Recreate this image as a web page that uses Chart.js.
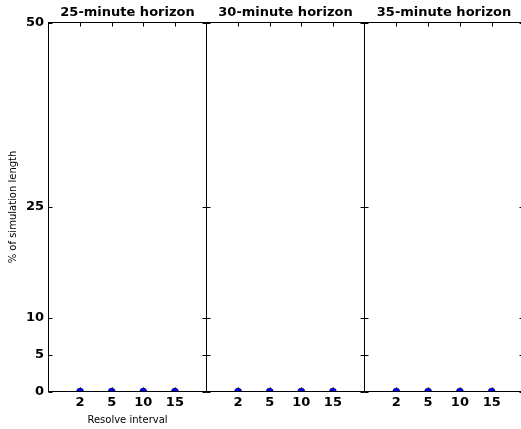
<!DOCTYPE html>
<html>
<head>
<meta charset="utf-8">
<script src="https://cdn.jsdelivr.net/npm/chart.js@4.4.1/dist/chart.umd.min.js"></script>
<style>
  html, body { margin: 0; padding: 0; background: #ffffff; }
  #wrap { position: relative; width: 521px; height: 429px; overflow: hidden; background: #ffffff; }
  #wrap canvas { position: absolute; left: 0; top: 0; }
</style>
</head>
<body>
<div id="wrap">
  <canvas id="c1" width="521" height="429"></canvas>
  <canvas id="c2" width="521" height="429"></canvas>
  <canvas id="c3" width="530" height="429"></canvas>
</div>
<script>
// ---- data ----
const horizons = ['25-minute horizon', '30-minute horizon', '35-minute horizon'];
const intervals = ['2', '5', '10', '15'];
const values25 = [0, 0, 0, 0];
const values30 = [0, 0, 0, 0];
const values35 = [0, 0, 0, 0];
const yTicks = [0, 5, 10, 25, 50];
const yTitle = '% of simulation length';
const xTitle = 'Resolve interval';

Chart.defaults.font.family = "'DejaVu Sans', sans-serif";
Chart.defaults.color = '#000000';

const TICK = 4;
const framePlugin = {
  id: 'frame',
  beforeDatasetsDraw(chart) {
    const ctx = chart.ctx, a = chart.chartArea;
    const xs = chart.scales.x, ys = chart.scales.y;
    ctx.save();
    ctx.strokeStyle = '#000000';
    ctx.lineWidth = 1;
    ctx.beginPath();
    intervals.forEach((_, i) => {
      const px = Math.round(xs.getPixelForValue(i + 1)) + 0.5;
      ctx.moveTo(px, a.top); ctx.lineTo(px, a.top + TICK);
      ctx.moveTo(px, a.bottom); ctx.lineTo(px, a.bottom - TICK);
    });
    yTicks.forEach(v => {
      const py = Math.round(ys.getPixelForValue(v)) + 0.5;
      ctx.moveTo(a.left, py); ctx.lineTo(a.left + TICK, py);
      ctx.moveTo(a.right, py); ctx.lineTo(a.right - TICK, py);
    });
    ctx.stroke();
    ctx.restore();
  },
  afterDraw(chart) {
    const ctx = chart.ctx, a = chart.chartArea;
    ctx.save();
    ctx.strokeStyle = '#000000';
    ctx.lineWidth = 1;
    ctx.strokeRect(a.left, a.top, a.right - a.left, a.bottom - a.top);
    ctx.restore();
  }
};

function makeChart(id, title, values, opts) {
  const data = values.map((v, i) => ({ x: i + 1, y: v }));
  return new Chart(document.getElementById(id), {
    type: 'scatter',
    data: {
      datasets: [{
        data: data,
        showLine: false,
        pointRadius: 3.5,
        pointHoverRadius: 3.5,
        pointBackgroundColor: '#0000ff',
        pointBorderColor: '#000000',
        pointBorderWidth: 0.5,
        clip: { left: 0, top: 0, right: 0, bottom: 0 }
      }]
    },
    options: {
      responsive: false,
      animation: false,
      events: [],
      layout: { padding: { left: opts.padLeft, right: opts.padRight, top: 0, bottom: 0 } },
      plugins: {
        legend: { display: false },
        tooltip: { enabled: false },
        title: {
          display: true,
          text: title,
          fullSize: false,
          color: '#000000',
          font: { size: 13, weight: 'bold', lineHeight: 1.2 },
          padding: { top: 5, bottom: 1.9 }
        }
      },
      scales: {
        x: {
          type: 'linear',
          position: 'bottom',
          min: 0,
          max: 5,
          grid: { display: false, drawTicks: false, tickLength: 0 },
          border: { display: false },
          afterBuildTicks: s => { s.ticks = intervals.map((_, i) => ({ value: i + 1 })); },
          afterFit: s => { s.height = 37.5; },
          ticks: {
            autoSkip: false,
            maxRotation: 0,
            padding: 3.7,
            color: '#000000',
            font: { size: 13, weight: 'bold' },
            callback: v => intervals[v - 1]
          },
          title: {
            display: opts.showXTitle,
            text: xTitle,
            color: '#000000',
            font: { size: 10 },
            padding: { top: 0, bottom: 2.6 }
          }
        },
        y: {
          type: 'linear',
          position: 'left',
          display: opts.showY,
          min: 0,
          max: 50,
          grid: { display: false, drawTicks: false, tickLength: 0 },
          border: { display: false },
          afterBuildTicks: s => { s.ticks = yTicks.map(v => ({ value: v })); },
          afterFit: s => { s.width = opts.showY ? 48.5 : 0; },
          ticks: {
            autoSkip: false,
            padding: 4.5,
            color: '#000000',
            font: { size: 13, weight: 'bold' },
            callback: v => String(v)
          },
          title: {
            display: opts.showY,
            text: yTitle,
            color: '#000000',
            font: { size: 10 },
            padding: { top: 7.5, bottom: 0 }
          }
        }
      }
    },
    plugins: [framePlugin]
  });
}

makeChart('c1', horizons[0], values25, { padLeft: 0, padRight: 521 - 206.5, showY: true, showXTitle: true });
makeChart('c2', horizons[1], values30, { padLeft: 206.5, padRight: 521 - 364.5, showY: false, showXTitle: false });
makeChart('c3', horizons[2], values35, { padLeft: 364.5, padRight: 530 - 523.5, showY: false, showXTitle: false });
</script>
</body>
</html>
